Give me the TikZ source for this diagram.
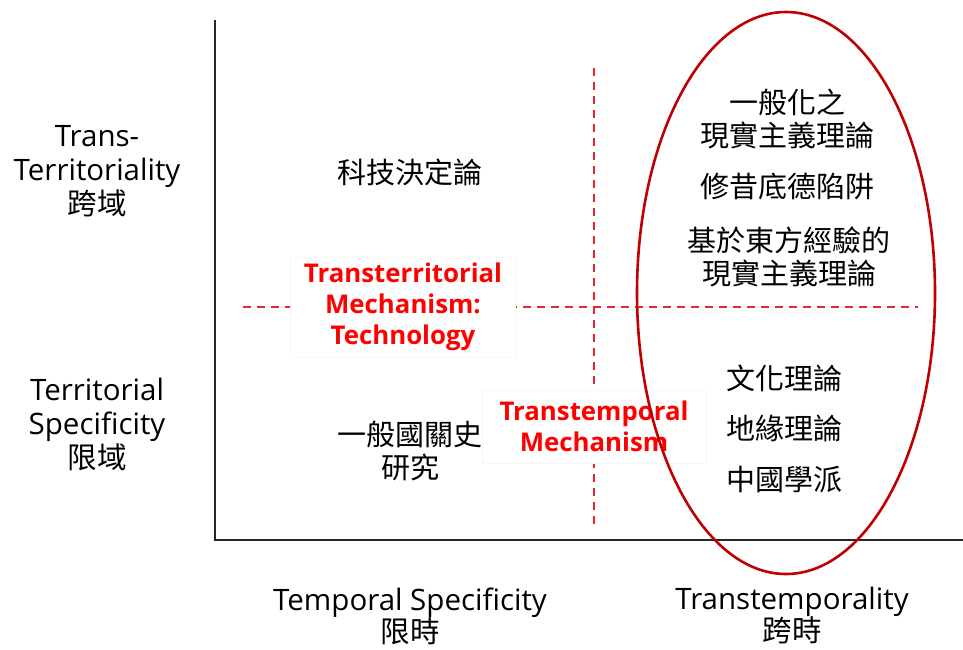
\documentclass[tikz,border=0pt]{standalone}
\usepackage{fontspec}
\setmainfont{Open Sans}
\newfontfamily\cjk{Noto Sans CJK TC}
\definecolor{ellred}{HTML}{C00000}
\definecolor{dashred}{HTML}{E8282E}
\definecolor{txtred}{HTML}{FF0000}
\begin{document}
\begin{tikzpicture}[x=1pt,y=-1pt,
  lbl/.style={align=center,inner sep=0pt,font=\fontsize{29.5}{34}\selectfont},
  zh/.style={align=center,inner sep=0pt,font=\fontsize{29}{33}\selectfont\cjk},
  mech/.style={align=center,inner sep=0pt,text=txtred,font=\fontsize{25.8}{31}\selectfont\bfseries},
  mbox/.style={fill=white,draw=black!3,line width=0.4pt},
  dashln/.style={draw=dashred,line width=1.4pt,dash pattern=on 8pt off 6pt},
  axis/.style={draw=black!85,line width=1.6pt}]
\useasboundingbox (0,0) rectangle (963,649);
% axes
\coordinate (top) at (215,20);
\coordinate (org) at (215,540);
\coordinate (rgt) at (963,540);
\draw[axis] (top) -- (org) -- (rgt);
% dashed dividers
\coordinate (hl) at (243,307);
\coordinate (hr) at (918,307);
\coordinate (vt) at (594,68);
\coordinate (vb) at (594,525);
\draw[dashln] (hl) -- (hr);
\draw[dashln] (vt) -- (vb);
% mechanism boxes
\path[mbox] (290,257) rectangle (515,357);
\node[mech] (m1) at (403,307) {Transterritorial\\Mechanism:\\Technology};
\path[mbox] (482,390) rectangle (706,463);
\node[mech] (m2) at (594,426) {Transtemporal\\Mechanism};
% ellipse
\draw[ellred,line width=2.6pt] (786,293) ellipse [x radius=149, y radius=281];
% left labels
\node[lbl] (tt) at (97,171) {Trans-\\Territoriality\\{\cjk 跨域}};
\node[lbl] (ts) at (97,424) {Territorial\\Specificity\\{\cjk 限域}};
% bottom labels
\node[lbl,font=\fontsize{29.5}{32}\selectfont] (tsp) at (410,616) {Temporal Specificity\\{\cjk 限時}};
\node[lbl,font=\fontsize{29.5}{32}\selectfont] (ttp) at (792,616) {Transtemporality\\{\cjk 跨時}};
% quadrant texts
\node[zh] (q1) at (410,172) {科技決定論};
\node[zh] (q3) at (410,451) {一般國關史\\研究};
\node[zh] (r1) at (787,119) {一般化之\\現實主義理論};
\node[zh] (r2) at (787,186) {修昔底德陷阱};
\node[zh] (r3) at (789,257) {基於東方經驗的\\現實主義理論};
\node[zh] (r4) at (784,378) {文化理論};
\node[zh] (r5) at (784,428) {地緣理論};
\node[zh] (r6) at (784,480) {中國學派};
\end{tikzpicture}
\end{document}
